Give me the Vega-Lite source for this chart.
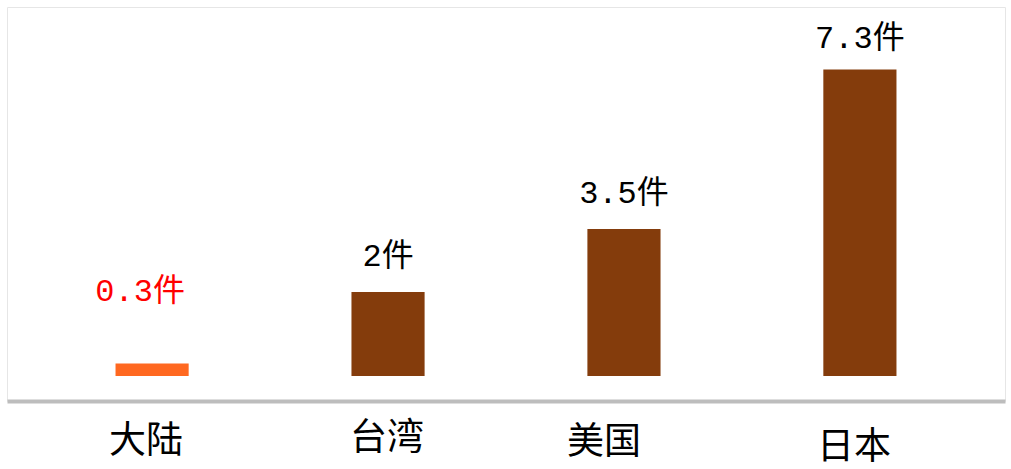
{
  "$schema": "https://vega.github.io/schema/vega-lite/v6.json",
  "autosize": {"type": "none"},
  "width": 998,
  "height": 394,
  "padding": {"left": 7, "top": 7, "right": 6, "bottom": 68},
  "background": "white",
  "config": {
    "view": {"fill": "white", "stroke": "#e6e6e6", "strokeWidth": 1}
  },
  "data": {
    "values": [
      {"region": "大陆", "count": 0.3, "label": "0.3件", "group": "mainland"},
      {"region": "台湾", "count": 2, "label": "2件", "group": "other"},
      {"region": "美国", "count": 3.5, "label": "3.5件", "group": "other"},
      {"region": "日本", "count": 7.3, "label": "7.3件", "group": "other"}
    ]
  },
  "encoding": {
    "x": {
      "field": "region",
      "type": "nominal",
      "sort": null,
      "scale": {"paddingInner": 0.69, "paddingOuter": 0.46},
      "axis": {
        "title": null,
        "ticks": false,
        "domain": true,
        "domainColor": "#bdbdbd",
        "domainWidth": 4,
        "labelAngle": 0,
        "labelFont": "Noto Sans CJK SC",
        "labelFontSize": 37,
        "labelColor": "#000000",
        "labelBaseline": "middle",
        "labelOffset": {
          "condition": [
            {"test": "datum.value === '美国'", "value": -20},
            {"test": "datum.value === '台湾'", "value": -1}
          ],
          "value": -6
        },
        "labelPadding": {
          "condition": [
            {"test": "datum.value === '台湾'", "value": 37},
            {"test": "datum.value === '美国'", "value": 41},
            {"test": "datum.value === '日本'", "value": 46}
          ],
          "value": 40
        }
      }
    },
    "y": {
      "field": "count",
      "type": "quantitative",
      "scale": {"domain": [-0.595, 8.786], "nice": false, "zero": false},
      "axis": null
    }
  },
  "layer": [
    {
      "mark": {"type": "bar"},
      "encoding": {
        "y2": {"datum": 0},
        "color": {
          "field": "group",
          "type": "nominal",
          "scale": {"domain": ["mainland", "other"], "range": ["#FF6820", "#843C0C"]},
          "legend": null
        }
      }
    },
    {
      "transform": [{"filter": "datum.region === '台湾' || datum.region === '美国'"}],
      "mark": {"type": "text", "font": "Liberation Mono, Noto Sans CJK SC", "fontSize": 32, "baseline": "middle", "dy": -36, "color": "#000000"},
      "encoding": {"text": {"field": "label"}}
    },
    {
      "transform": [{"filter": "datum.region === '日本'"}],
      "mark": {"type": "text", "font": "Liberation Mono, Noto Sans CJK SC", "fontSize": 32, "baseline": "middle", "dy": -31, "color": "#000000"},
      "encoding": {"text": {"field": "label"}}
    },
    {
      "transform": [{"filter": "datum.group === 'mainland'"}],
      "mark": {"type": "text", "font": "Liberation Mono, Noto Sans CJK SC", "fontSize": 32, "baseline": "middle", "dy": -72, "dx": -12, "color": "#FF0000"},
      "encoding": {"text": {"field": "label"}}
    }
  ]
}
